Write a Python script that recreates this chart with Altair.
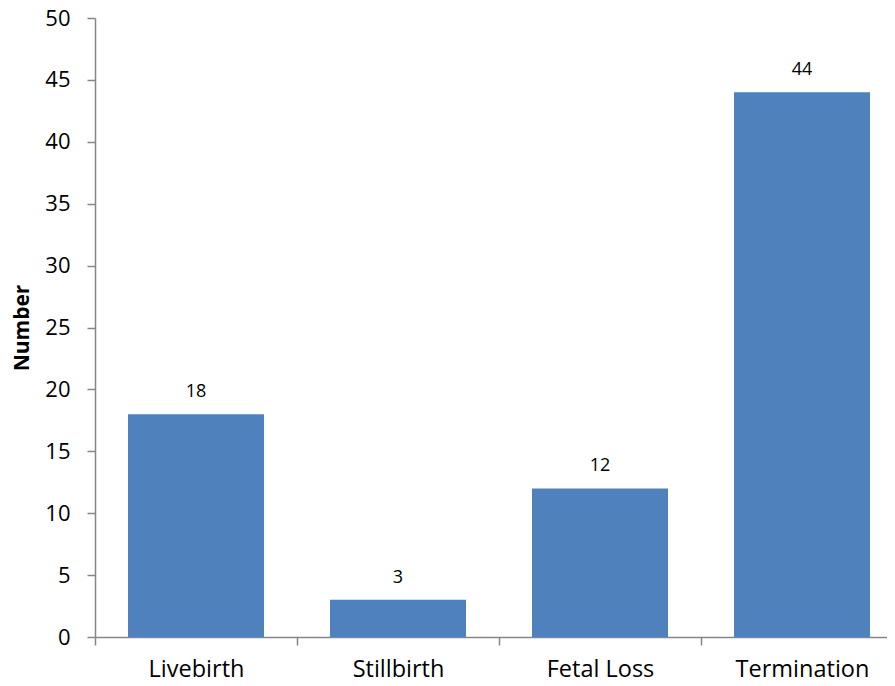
import altair as alt
import pandas as pd

categories = ["Livebirth", "Stillbirth", "Fetal Loss", "Termination"]
values = [18, 3, 12, 44]

df = pd.DataFrame({"cat": categories, "val": values})

FONT = "Open Sans"
AX = "#868686"

x = alt.X("cat:N", sort=categories, title=None,
          scale=alt.Scale(paddingInner=0.3267, paddingOuter=0.1238, align=0.66),
          axis=alt.Axis(labelAngle=0, labelFont=FONT, labelFontSize=23.5, labelColor="black",
                        labelBaseline="alphabetic",
                        domainColor=AX, tickColor=AX, tickSize=8, tickOffset=-101,
                        labelOffset=101, labelPadding=31, domainWidth=1.5, tickWidth=1.5))

y = alt.Y("val:Q", title="Number",
          scale=alt.Scale(domain=[0, 50], nice=False),
          axis=alt.Axis(values=list(range(0, 51, 5)), grid=False, labelFont=FONT,
                        labelFontSize=22, labelColor="black", domainColor=AX, tickColor=AX,
                        tickSize=8, labelPadding=17, titleFont=FONT, titleFontSize=21,
                        titleFontWeight="bold", titleColor="black", titlePadding=12,
                        domainWidth=1.5, tickWidth=1.5))

bars = alt.Chart(df).mark_bar(color="#4F81BD").encode(x=x, y=y)
labels = alt.Chart(df).mark_text(font=FONT, fontSize=18, color="black", dy=-17,
                                 baseline="alphabetic").encode(x=x, y=y, text="val:Q")

chart = (bars + labels).properties(
    width=792, height=619,
    autosize=alt.AutoSizeParams(type="none"),
    padding={"left": 87, "top": 10, "right": 0, "bottom": 41},
).configure_view(stroke=None)

chart.save("out.html", embed_options={"renderer": "svg", "actions": False})
